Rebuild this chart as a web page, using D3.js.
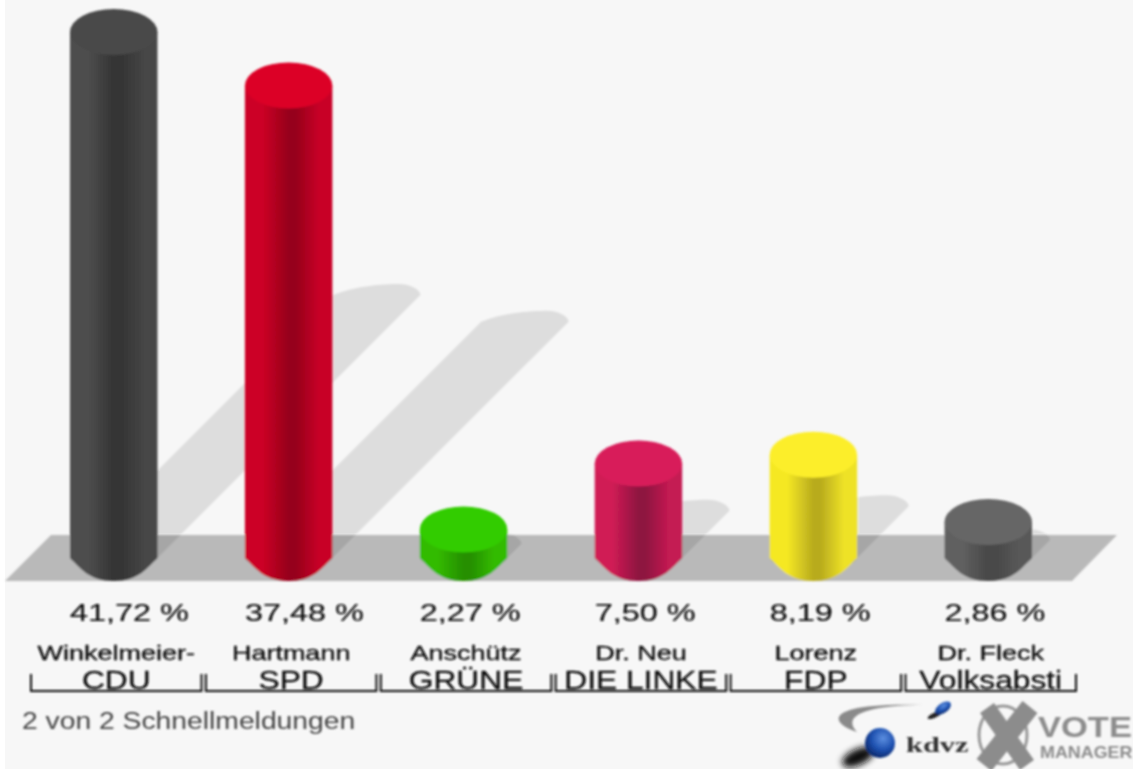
<!DOCTYPE html>
<html>
<head>
<meta charset="utf-8">
<script src="https://cdn.jsdelivr.net/npm/d3@7"></script>
<style>
  html, body { margin: 0; padding: 0; background: #fff; }
  text { font-family: "Liberation Sans", Arial, sans-serif; fill: #111; }
</style>
</head>
<body>
<div id="vis"></div>
<script>
//chart values
var parties = ["CDU", "SPD", "GRÜNE", "DIE LINKE", "FDP", "Volksabsti"];
var candidates = ["Winkelmeier-", "Hartmann", "Anschütz", "Dr. Neu", "Lorenz", "Dr. Fleck"];
var shares = [41.72, 37.48, 2.27, 7.50, 8.19, 2.86];
var reported = "2 von 2 Schnellmeldungen";

//top colour, then side gradient left / middle / right
var topColors = d3.scaleOrdinal().domain(parties)
  .range(["#4a4a4a", "#dc0028", "#33cc00", "#d81e5a", "#fcee2a", "#666666"]);
var sideColors = d3.scaleOrdinal().domain(parties)
  .range([["#4e4e4e", "#343434", "#464646"], ["#cc0025", "#96001a", "#c80028"], ["#33bb00", "#258f00", "#33bb00"],
          ["#d01c55", "#8e1240", "#c41a52"], ["#f5e824", "#b8ab1e", "#eee226"], ["#606060", "#484848", "#585858"]]);

var width = 1133, height = 769;
var baseY = 558, ry = 23;
var stretch = 1.32; //the source image is wider than it is tall

var svg = d3.select("#vis").append("svg")
  .attr("width", width)
  .attr("height", height)
  .style("display", "block");

var defs = svg.append("defs");
defs.append("filter").attr("id", "soft")
  .attr("x", "-2%").attr("y", "-2%").attr("width", "104%").attr("height", "104%")
  .append("feGaussianBlur").attr("stdDeviation", 0.8);
defs.append("filter").attr("id", "haze")
  .attr("x", "-50%").attr("y", "-50%").attr("width", "200%").attr("height", "200%")
  .append("feGaussianBlur").attr("stdDeviation", 3);

//bars and labels sit on two slightly different bands
var x = d3.scaleBand().domain(parties).range([70, 1032]).paddingInner(0.5);
var xLabel = d3.scaleBand().domain(parties).range([31, 1076]).paddingInner(0.025);
var y = d3.scaleLinear().domain([0, 41.72]).range([baseY, 32]);
var format = d3.formatLocale({decimal: ",", thousands: ".", grouping: [3], currency: ["", ""]}).format(".2f");

var rows = parties.map(function(p, i) {
  return {party: p, candidate: candidates[i], share: shares[i]};
});

svg.append("rect").attr("x", 5).attr("width", width - 5).attr("height", height).attr("fill", "#f7f7f7");

var g = svg.append("g").attr("filter", "url(#soft)");

//floor
g.append("path")
  .attr("d", "M5," + (baseY + ry) + "L51," + (baseY - ry) + "H1117L1072," + (baseY + ry) + "Z")
  .attr("fill", "#b9b9b9");

//shadows thrown back at 45 degrees, half as long as the bar
g.selectAll("path.shadow")
  .data(rows)
  .enter().append("path")
    .attr("class", "shadow")
    .attr("fill", "#000")
    .attr("fill-opacity", 0.1)
    .attr("d", function(d) {
      var w = x.bandwidth(), l = x(d.party), s = (baseY - y(d.share)) / 2;
      var top = baseY - s;
      return "M" + l + "," + baseY +
        "L" + (l + s) + "," + top +
        "C" + (l + s + 22) + "," + (top - 9) + " " + (l + s + 50) + "," + (top - 11) + " " + (l + s + 66) + "," + (top - 11) +
        "C" + (l + s + 78) + "," + (top - 11) + " " + (l + s + w) + "," + (top - 5) + " " + (l + s + w) + "," + top +
        "L" + (l + w) + "," + baseY +
        "A" + (w / 2) + ",11 0 0 1 " + l + "," + baseY + "Z";
    });

//gradients for the cylinder sides
var grads = defs.selectAll("linearGradient")
  .data(rows)
  .enter().append("linearGradient")
    .attr("id", function(d, i) { return "side" + i; });
grads.selectAll("stop")
  .data(function(d) {
    var c = sideColors(d.party);
    return [[0, c[0]], [0.2, c[0]], [0.5, c[1]], [0.58, c[1]], [0.85, c[2]], [1, c[2]]];
  })
  .enter().append("stop")
    .attr("offset", function(d) { return d[0]; })
    .attr("stop-color", function(d) { return d[1]; });

var bars = g.selectAll("g.bar")
  .data(rows)
  .enter().append("g")
    .attr("class", "bar");

bars.append("path")
  .attr("fill", function(d, i) { return "url(#side" + i + ")"; })
  .attr("d", function(d) {
    var w = x.bandwidth(), l = x(d.party), c = l + w / 2;
    return "M" + l + "," + y(d.share) + "V" + baseY +
      "C" + (l + 10) + "," + (baseY + 9) + " " + (c - 26) + "," + (baseY + ry) + " " + c + "," + (baseY + ry) +
      "C" + (c + 26) + "," + (baseY + ry) + " " + (l + w - 10) + "," + (baseY + 9) + " " + (l + w) + "," + baseY +
      "V" + y(d.share) + "Z";
  });

bars.append("ellipse")
  .attr("cx", function(d) { return x(d.party) + x.bandwidth() / 2; })
  .attr("cy", function(d) { return y(d.share); })
  .attr("rx", x.bandwidth() / 2)
  .attr("ry", ry)
  .attr("fill", function(d) { return topColors(d.party); });

//percent labels start at the left edge of each bar
g.selectAll("text.share")
  .data(rows)
  .enter().append("text")
    .attr("class", "share")
    .attr("transform", function(d) { return "translate(" + x(d.party) + ",621) scale(" + (stretch + 0.03) + ",1)"; })
    .attr("font-size", 24)
    .attr("stroke", "#111")
    .attr("stroke-width", 0.2)
    .text(function(d) { return format(d.share) + " %"; });

g.selectAll("text.candidate")
  .data(rows)
  .enter().append("text")
    .attr("class", "candidate")
    .attr("text-anchor", "middle")
    .attr("transform", function(d) { return "translate(" + (xLabel(d.party) + xLabel.bandwidth() / 2) + ",660) scale(1.35,1)"; })
    .attr("font-size", 20)
    .attr("stroke", "#111")
    .attr("stroke-width", 0.35)
    .text(function(d) { return d.candidate; });

g.selectAll("text.party")
  .data(rows)
  .enter().append("text")
    .attr("class", "party")
    .attr("text-anchor", "middle")
    .attr("transform", function(d) { return "translate(" + (xLabel(d.party) + xLabel.bandwidth() / 2) + ",689) scale(1.22,1)"; })
    .attr("font-size", 26)
    .attr("stroke", "#111")
    .attr("stroke-width", 0.3)
    .text(function(d) { return d.party; });

//brackets under each party
g.selectAll("path.bracket")
  .data(rows)
  .enter().append("path")
    .attr("class", "bracket")
    .attr("fill", "none")
    .attr("stroke", "#111")
    .attr("stroke-width", 2)
    .attr("d", function(d) {
      var l = xLabel(d.party);
      return "M" + l + ",674V691H" + (l + xLabel.bandwidth()) + "V674";
    });

g.append("text")
  .attr("transform", "translate(22,729) scale(1.23,1)")
  .attr("font-size", 23)
  .style("fill", "#444")
  .text(reported);

//logos
var ball = defs.append("radialGradient").attr("id", "ball").attr("cx", "60%").attr("cy", "35%").attr("r", "65%");
ball.append("stop").attr("offset", 0).attr("stop-color", "#5c8fe0");
ball.append("stop").attr("offset", 0.6).attr("stop-color", "#1d4fae");
ball.append("stop").attr("offset", 1).attr("stop-color", "#0c2a6e");

var logo = g.append("g");
logo.append("path")
  .attr("d", "M857,732C826,722 826,702 923,705C880,705 838,712 857,732Z")
  .attr("fill", "#8a8a8a");
logo.append("ellipse")
  .attr("cx", 935).attr("cy", 715).attr("rx", 8).attr("ry", 2.5)
  .attr("transform", "rotate(-25 935 715)")
  .attr("fill", "#222");
logo.append("ellipse")
  .attr("cx", 943).attr("cy", 708).attr("rx", 9).attr("ry", 5)
  .attr("transform", "rotate(-35 943 708)")
  .attr("fill", "url(#ball)");
logo.append("ellipse")
  .attr("cx", 858).attr("cy", 757).attr("rx", 17).attr("ry", 8)
  .attr("transform", "rotate(-25 858 757)")
  .attr("filter", "url(#haze)")
  .attr("fill", "#111");
logo.append("ellipse")
  .attr("cx", 880).attr("cy", 743).attr("rx", 15).attr("ry", 15)
  .attr("fill", "url(#ball)");
logo.append("text")
  .attr("transform", "translate(906,752) scale(1.38,1)")
  .attr("font-size", 22)
  .attr("font-weight", "bold")
  .style("font-family", "'Liberation Serif', serif")
  .style("fill", "#333")
  .text("kdvz");

logo.append("ellipse")
  .attr("cx", 1003).attr("cy", 735).attr("rx", 24).attr("ry", 29)
  .attr("fill", "none").attr("stroke", "#999").attr("stroke-width", 3);
logo.append("path")
  .attr("d", "M987,708L1027,765").attr("stroke", "#8c8c8c").attr("stroke-width", 17);
logo.append("path")
  .attr("d", "M1030,707L984,765").attr("stroke", "#8c8c8c").attr("stroke-width", 19);
logo.append("text")
  .attr("transform", "translate(1038,737) scale(1.15,1)")
  .attr("font-size", 30)
  .attr("font-weight", "bold")
  .style("fill", "#8c8c8c")
  .text("VOTE");
logo.append("text")
  .attr("transform", "translate(1040,758) scale(1.12,1)")
  .attr("font-size", 16)
  .attr("font-weight", "bold")
  .style("fill", "#8c8c8c")
  .text("MANAGER");
</script>
</body>
</html>
